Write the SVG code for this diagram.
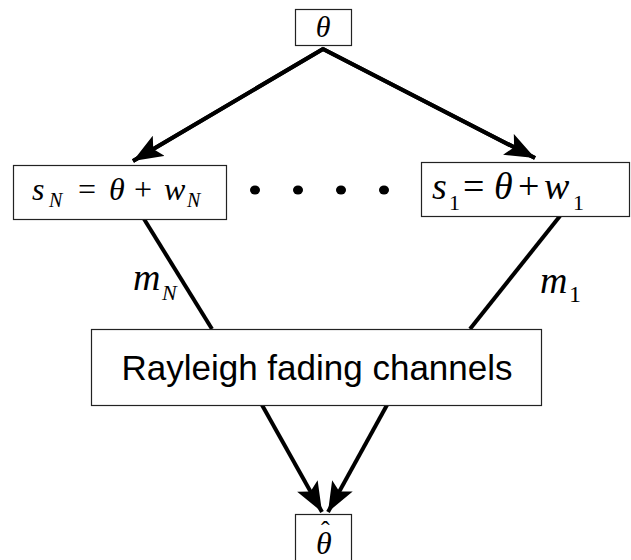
<svg xmlns="http://www.w3.org/2000/svg" width="631" height="560" viewBox="0 0 631 560">
<style>
.box{fill:#fff;stroke:#222;stroke-width:1.2}
.ln{fill:none;stroke:#000;stroke-width:4}
.m{font-family:"Liberation Serif",serif;font-style:italic;fill:#000}
.r{font-family:"Liberation Serif",serif;fill:#000}
.sans{font-family:"Liberation Sans",Arial,sans-serif;fill:#000}
</style>
<defs>
<marker id="ah" markerUnits="userSpaceOnUse" markerWidth="32" markerHeight="24" refX="28" refY="11" orient="auto" viewBox="0 0 30 22">
<path d="M0,0 L28,11 L0,22 L6,11 z" fill="#000"/>
</marker>
</defs>
<g id="connectors">
<polyline class="ln" points="133,161 323,49 535,158" stroke-linejoin="miter"/>
<line class="ln" x1="323" y1="49" x2="133" y2="161" marker-end="url(#ah)"/>
<line class="ln" x1="323" y1="49" x2="535" y2="158" marker-end="url(#ah)"/>
<line class="ln" x1="144" y1="219" x2="212" y2="329"/>
<line class="ln" x1="560" y1="216" x2="470" y2="329"/>
<line class="ln" x1="262" y1="405" x2="322" y2="512" marker-end="url(#ah)"/>
<line class="ln" x1="387" y1="405" x2="328" y2="512" marker-end="url(#ah)"/>
</g>
<g id="theta">
<rect class="box" x="295.5" y="9.5" width="56" height="36"/>
<text class="m" x="323" y="37" font-size="30" text-anchor="middle">θ</text>
</g>
<g id="sN">
<rect class="box" x="13.5" y="165.5" width="213" height="54"/>
<text class="m" x="32" y="200" font-size="32">s</text>
<text class="m" x="49" y="207" font-size="20">N</text>
<text class="r" x="78" y="200" font-size="32">=</text>
<text class="m" x="109" y="200" font-size="32">θ</text>
<text class="r" x="134" y="200" font-size="32">+</text>
<text class="m" x="164" y="200" font-size="32">w</text>
<text class="m" x="187" y="207" font-size="20">N</text>
</g>
<g id="dots" fill="#000">
<ellipse cx="255" cy="190" rx="5" ry="4.5"/>
<ellipse cx="298" cy="190" rx="5" ry="4.5"/>
<ellipse cx="341" cy="190" rx="5" ry="4.5"/>
<ellipse cx="384" cy="190" rx="5" ry="4.5"/>
</g>
<g id="s1">
<rect class="box" x="421.5" y="162.5" width="208" height="54"/>
<text class="m" x="432" y="199" font-size="38">s</text>
<text class="r" x="449" y="210" font-size="22">1</text>
<text class="r" x="463" y="199" font-size="38">=</text>
<text class="m" x="494" y="199" font-size="38">θ</text>
<text class="r" x="518" y="199" font-size="38">+</text>
<text class="m" x="544" y="199" font-size="38">w</text>
<text class="r" x="573" y="210" font-size="22">1</text>
</g>
<g id="mN">
<text class="m" x="133" y="290" font-size="38">m</text>
<text class="m" x="162" y="300" font-size="22">N</text>
</g>
<g id="m1">
<text class="m" x="540" y="293" font-size="38">m</text>
<text class="r" x="569" y="302" font-size="24">1</text>
</g>
<g id="rayleigh">
<rect class="box" x="91.5" y="329.5" width="450" height="76"/>
<text class="sans" x="317" y="380" font-size="35" text-anchor="middle">Rayleigh fading channels</text>
</g>
<g id="thetahat">
<rect class="box" x="295.5" y="514.5" width="56" height="50"/>
<text class="m" x="316" y="554" font-size="32">θ<tspan x="321" y="539" font-size="26" font-style="normal">ˆ</tspan></text>
</g>
</svg>
